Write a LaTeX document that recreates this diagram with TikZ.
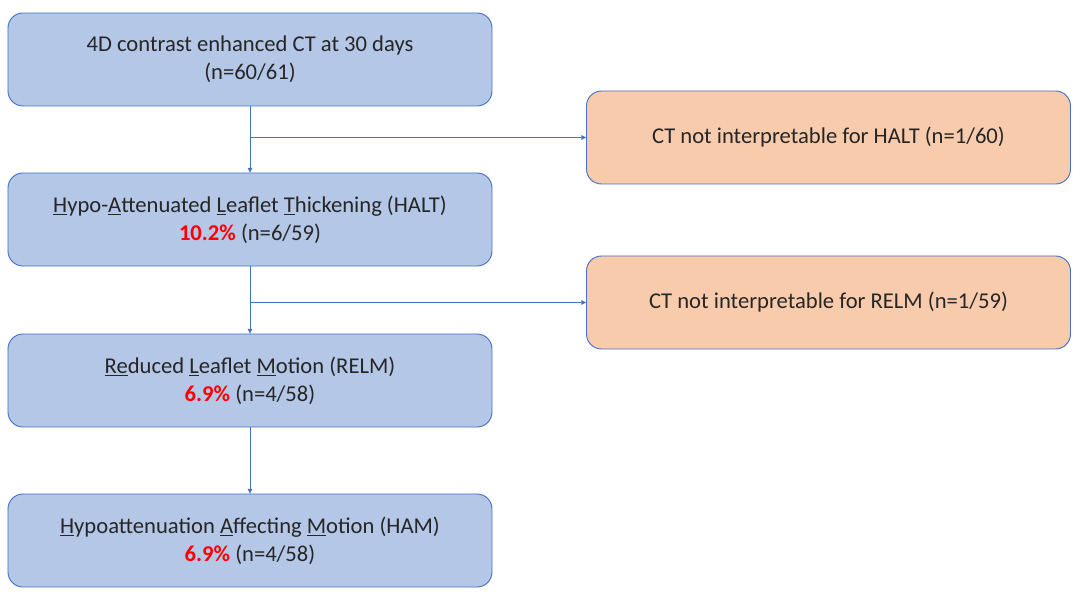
\documentclass[tikz,border=0pt]{standalone}
\usepackage{fontspec}
\setmainfont{Carlito}
\usepackage{tikz}
\usetikzlibrary{positioning,arrows.meta}
\usepackage{xcolor}
\definecolor{boxblue}{HTML}{B4C7E7}
\definecolor{boxorange}{HTML}{F8CBAD}
\definecolor{lineblue}{HTML}{4472C4}

\begin{document}
\begin{tikzpicture}[x=0.03cm, y=-0.03cm,
	every node/.style={font=\fontsize{19.3}{24}\selectfont, align=center, text=black!85},
	stage/.style={draw=lineblue, fill=boxblue, rounded corners=0.45cm, minimum width=14.52cm, minimum height=2.79cm, line width=0.8pt},
	excl/.style={stage, fill=boxorange},
	flow/.style={draw=lineblue, line width=0.5pt, -{Triangle[length=4pt, width=4pt]}}]
\useasboundingbox (0,0) rectangle (1080,597);
% left column
\node [stage] (ct) at (250,59.5) {4D contrast enhanced CT at 30 days\\(n=60/61)};
\node [stage] (halt) at (250,219.5) {\underline{H}ypo-\underline{A}ttenuated \underline{L}eaflet \underline{T}hickening (HALT)\\\textcolor{red}{\textbf{10.2\%}} (n=6/59)};
\node [stage] (relm) at (250,380.5) {\underline{Re}duced \underline{L}eaflet \underline{M}otion (RELM)\\\textcolor{red}{\textbf{6.9\%}} (n=4/58)};
\node [stage] (ham) at (250,540.5) {\underline{H}ypoattenuation \underline{A}ffecting \underline{M}otion (HAM)\\\textcolor{red}{\textbf{6.9\%}} (n=4/58)};
% right column
\node [excl] (nohalt) at (828.5,137.5) {CT not interpretable for HALT (n=1/60)};
\node [excl] (norelm) at (828.5,302.5) {CT not interpretable for RELM (n=1/59)};
% connectors
\coordinate (b1) at (ct.south |- nohalt.west);
\coordinate (b2) at (halt.south |- norelm.west);
\draw [flow] (ct.south) -- (halt.north);
\draw [flow] (halt.south) -- (relm.north);
\draw [flow] (relm.south) -- (ham.north);
\draw [flow] (b1) -- (nohalt.west);
\draw [flow] (b2) -- (norelm.west);
\end{tikzpicture}
\end{document}
